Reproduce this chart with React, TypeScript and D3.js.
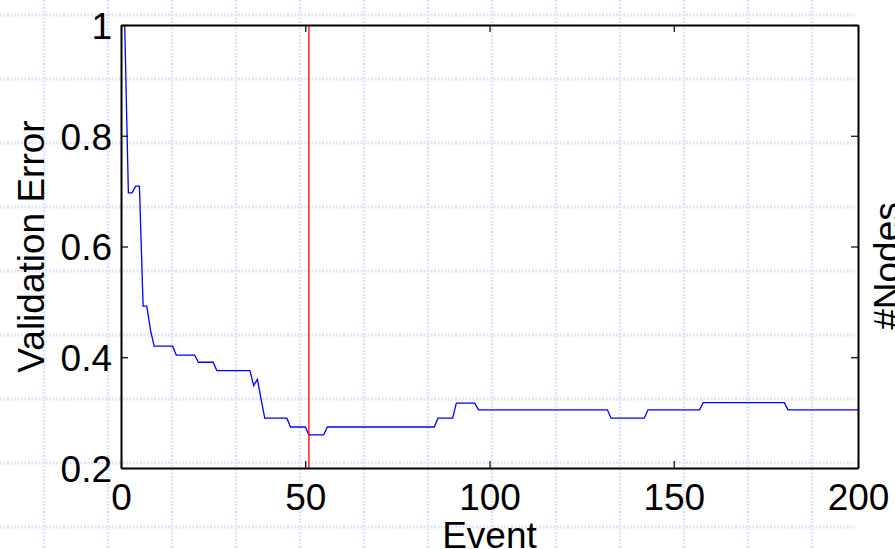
import React, { useRef, useEffect } from 'react';
import * as d3 from 'd3';

// event index and validation error at the points where the curve changes
const events = [1, 2, 3, 4, 5, 6, 7, 8, 9, 14, 15, 20, 21, 25, 26, 35, 36, 37, 38, 39, 45, 46, 50, 51, 55, 56, 85, 86, 90, 91, 96, 97, 132, 133, 142, 143, 157, 158, 180, 181, 200];
const errors = [1.0, 0.697, 0.697, 0.709, 0.709, 0.4925, 0.4925, 0.449, 0.42, 0.42, 0.404, 0.404, 0.391, 0.391, 0.376, 0.376, 0.349, 0.36, 0.325, 0.29, 0.29, 0.274, 0.274, 0.26, 0.26, 0.274, 0.274, 0.29, 0.29, 0.317, 0.317, 0.305, 0.305, 0.29, 0.29, 0.305, 0.305, 0.318, 0.318, 0.305, 0.305];
const bestEvent = 51;

const xTicks = [0, 50, 100, 150, 200];
const yTicks = [0.2, 0.4, 0.6, 0.8, 1];

const FONT = '"Liberation Sans", Arial, Helvetica, sans-serif';

const App = () => {
  const ref = useRef(null);

  useEffect(() => {
    const width = 895;
    const height = 549;
    const margin = { top: 25, right: 37, bottom: 81, left: 121 };
    const w = width - margin.left - margin.right;
    const h = height - margin.top - margin.bottom;

    const svg = d3.select(ref.current).attr('width', width).attr('height', height);
    svg.selectAll('*').remove();

    // graph paper background
    const paper = svg.append('g').attr('stroke', '#dfe6fb').attr('stroke-width', 3).attr('stroke-dasharray', '2 1.5');
    d3.range(44, 830, 64).forEach((gx) => {
      paper.append('line').attr('x1', gx).attr('x2', gx).attr('y1', 0).attr('y2', height);
    });
    d3.range(15, height, 64).forEach((gy) => {
      paper.append('line').attr('x1', 0).attr('x2', 855).attr('y1', gy).attr('y2', gy);
    });

    const g = svg.append('g').attr('transform', `translate(${margin.left},${margin.top})`);

    const x = d3.scaleLinear().domain([0, 200]).range([0, w]);
    const y = d3.scaleLinear().domain([0.2, 1]).range([h, 0]);

    const data = events.map((e, i) => ({ e, v: errors[i] }));
    const line = d3
      .line()
      .x((d) => x(d.e))
      .y((d) => y(d.v));

    g.append('path')
      .datum(data)
      .attr('fill', 'none')
      .attr('stroke', '#0000ff')
      .attr('stroke-width', 1.3)
      .attr('d', line);

    g.append('line')
      .attr('x1', x(bestEvent))
      .attr('x2', x(bestEvent))
      .attr('y1', 0)
      .attr('y2', h)
      .attr('stroke', '#ff0000')
      .attr('stroke-width', 1.3);

    const styleAxis = (sel) => {
      sel.select('.domain').attr('stroke', '#000').attr('stroke-width', 2);
      sel.selectAll('.tick line').attr('stroke', '#000').attr('stroke-width', 1.2);
      sel.selectAll('.tick text').attr('fill', '#000').attr('font-size', 37).attr('font-family', FONT);
    };

    g.append('g')
      .attr('transform', `translate(0,${h})`)
      .call(d3.axisBottom(x).tickValues(xTicks).tickSize(-7).tickSizeOuter(0).tickFormat((d) => String(d)))
      .call(styleAxis)
      .call((a) => a.selectAll('.tick text').attr('y', 42).attr('dy', null));

    g.append('g')
      .call(d3.axisLeft(y).tickValues(yTicks).tickSize(-7).tickSizeOuter(0).tickFormat((d) => String(d)))
      .call(styleAxis)
      .call((a) => a.selectAll('.tick text').attr('x', -9).attr('dy', '0.36em'));

    g.append('g')
      .call(d3.axisTop(x).tickValues(xTicks).tickSize(-7).tickSizeOuter(0).tickFormat(() => ''))
      .call(styleAxis);

    g.append('g')
      .attr('transform', `translate(${w},0)`)
      .call(d3.axisRight(y).tickValues(yTicks).tickSize(-7).tickSizeOuter(0).tickFormat(() => ''))
      .call(styleAxis);

    svg.append('text')
      .attr('x', margin.left + w / 2)
      .attr('y', 548)
      .attr('text-anchor', 'middle')
      .attr('font-size', 37)
      .attr('font-family', FONT)
      .text('Event');

    svg.append('text')
      .attr('transform', `translate(44,${margin.top + h / 2}) rotate(-90)`)
      .attr('text-anchor', 'middle')
      .attr('font-size', 37)
      .attr('font-family', FONT)
      .text('Validation Error');

    // right-hand axis title, partly outside the picture as in the original
    svg.append('text')
      .attr('transform', `translate(900,266) rotate(-90)`)
      .attr('text-anchor', 'middle')
      .attr('font-size', 37)
      .attr('font-family', FONT)
      .text('#Nodes');
  }, []);

  return <svg ref={ref} style={{ position: 'absolute', left: 0, top: 0 }} />;
};

export default App;
